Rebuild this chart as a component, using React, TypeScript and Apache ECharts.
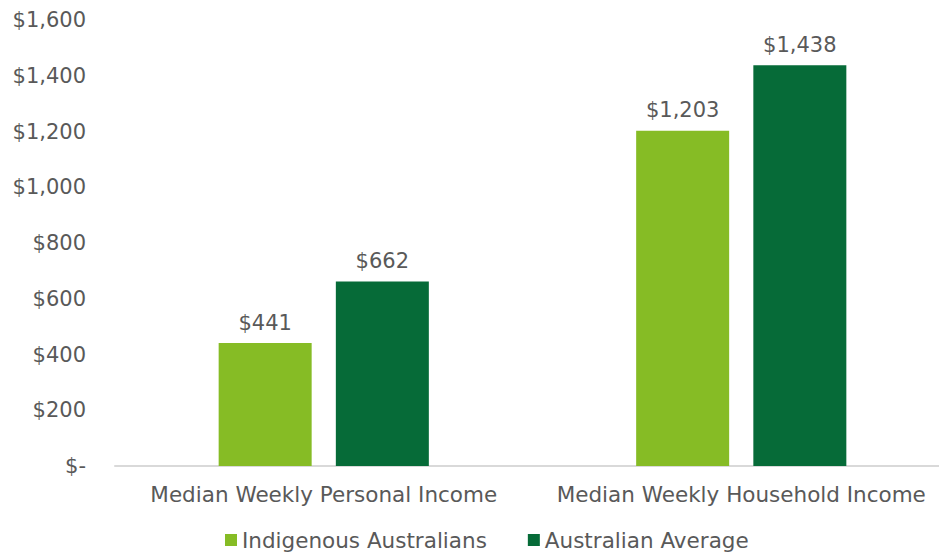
import React, { useEffect, useRef } from "react";
import * as echarts from "echarts";

const categories = ["Median Weekly Personal Income", "Median Weekly Household Income"];
const seriesNames = ["Indigenous Australians", "Australian Average"];
const indigenous = [441, 1203];
const average = [662, 1438];
const yTicks = [0, 200, 400, 600, 800, 1000, 1200, 1400, 1600];

const FONT = "DejaVu Sans";
const TEXT = "#595959";

const fmt = (v: number) => (v === 0 ? "$-" : "$" + v.toLocaleString("en-US"));

export default function App() {
  const ref = useRef<HTMLDivElement>(null);
  useEffect(() => {
    const chart = echarts.init(ref.current!, undefined, { renderer: "svg" });
    chart.setOption({
      animation: false,
      textStyle: { fontFamily: FONT },
      grid: {
        left: 115,
        width: 835,
        top: 20,
        bottom: 88,
        containLabel: false,
        outerBoundsMode: "none",
      },
      legend: {
        left: 220,
        bottom: -2,
        itemWidth: 12,
        itemHeight: 12,
        itemGap: 41,
        icon: "rect",
        textStyle: { fontFamily: FONT, fontSize: 21.5, color: TEXT },
        data: seriesNames,
      },
      xAxis: {
        type: "category",
        data: categories,
        axisLine: { lineStyle: { color: "#d9d9d9", width: 2 } },
        axisTick: { show: false },
        axisLabel: { fontFamily: FONT, fontSize: 21.5, color: TEXT, margin: 17, interval: 0 },
      },
      yAxis: {
        type: "value",
        min: yTicks[0],
        max: yTicks[yTicks.length - 1],
        interval: 200,
        splitLine: { show: false },
        axisLine: { show: false },
        axisTick: { show: false },
        axisLabel: { fontFamily: FONT, fontSize: 21, color: TEXT, margin: 29, formatter: fmt },
      },
      series: [
        {
          name: seriesNames[0],
          type: "bar",
          data: indigenous,
          barWidth: 93,
          barGap: "26%",
          itemStyle: { color: "#86BC25" },
          label: {
            show: true,
            position: "top",
            distance: 10,
            fontFamily: FONT,
            fontSize: 21,
            color: TEXT,
            formatter: (p: any) => fmt(p.value),
          },
        },
        {
          name: seriesNames[1],
          type: "bar",
          data: average,
          barWidth: 93,
          itemStyle: { color: "#066B38" },
          label: {
            show: true,
            position: "top",
            distance: 10,
            fontFamily: FONT,
            fontSize: 21,
            color: TEXT,
            formatter: (p: any) => fmt(p.value),
          },
        },
      ],
    });
    return () => chart.dispose();
  }, []);
  return <div ref={ref} style={{ width: 939, height: 554, position: "absolute", left: 0, top: 0 }} />;
}
